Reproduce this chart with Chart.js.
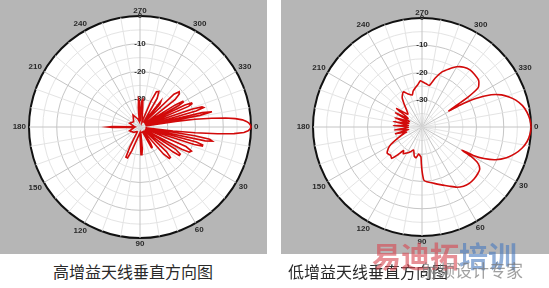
<!DOCTYPE html>
<html><head><meta charset="utf-8">
<script src="https://cdn.jsdelivr.net/npm/chart.js@4.4.1/dist/chart.umd.min.js"></script>
<style>
html,body{margin:0;padding:0;background:#fff;width:549px;height:288px;overflow:hidden;position:relative;font-family:"Liberation Sans",Arial,sans-serif}
.panel{position:absolute;top:0;height:254px;background:#b6b6b6}
#p1{left:0;width:267px}
#p2{left:281px;width:268px}
canvas{display:block}
.cap{position:absolute;top:260px;font-family:"Noto Sans CJK SC",sans-serif;font-size:16px;color:#2a2a2a;white-space:nowrap;line-height:22px}
#wm1{position:absolute;left:372px;top:240px;font-family:"Noto Sans CJK SC",sans-serif;font-weight:bold;font-size:29px;line-height:30px;white-space:nowrap}
#wm2{position:absolute;left:421px;top:259px;font-family:"Noto Sans CJK SC",sans-serif;font-size:17px;line-height:22px;color:rgba(120,120,120,0.7);white-space:nowrap}
</style></head>
<body>
<div class="panel" id="p1"><canvas id="c1" width="267" height="254"></canvas></div>
<div class="panel" id="p2"><canvas id="c2" width="268" height="254"></canvas></div>
<div class="cap" style="left:53px">高增益天线垂直方向图</div>
<div class="cap" style="left:288px">低增益天线垂直方向图</div>
<div id="wm1"><span style="color:rgba(215,70,80,0.6)">易迪拓</span><span style="color:rgba(70,120,190,0.6)">培训</span></div>
<div id="wm2">射频设计专家</div>
<script>
// angle tick labels (degrees, 0 = right, increasing clockwise) and gain ticks (dB)
const angleTicks = [0, 30, 60, 90, 120, 150, 180, 210, 240, 270, 300, 330];
const gainTicks = [0, -10, -20, -30];

// High gain antenna vertical pattern: angle (deg) / gain (dB)
const highAngles = [
  -10, -9, -8, -7, -6, -5, -4, -3, -2, -1, 0, 1, 2, 3, 4, 5, 6, 7, 8,
  -11, -12, -13, -14,
  -16, -17, -18, -19, -20,
  -23, -24, -25, -26, -27,
  -29, -30, -31, -32, -34,
  -38, -40, -42, -44, -46,
  -49, -51, -53,
  -59, -62, -65, -67, -69,
  -82, -84, -86, -88,
  -91, -93, -95, -97,
  255, 240, 220, 200, 183, 181, 180, 179, 177, 160, 140, 125,
  109, 112, 115, 117, 119,
  82, 84, 86, 88, 90,
  54, 57, 59, 61, 63,
  43, 45, 47, 49, 51,
  32, 34, 36, 37, 39,
  23, 25, 27, 28, 30,
  15, 16, 17, 18, 19,
  9, 10, 11, 12, 13
];
const highGain = [
  -38, -27, -20, -14, -9, -5.5, -3, -1.6, -0.7, -0.2, 0, -0.3, -1, -2.5, -6, -12, -20, -28, -38,
  -18, -13.5, -17, -38,
  -19, -16, -16.5, -20, -38,
  -21, -19.5, -19.5, -22, -38,
  -24, -22, -22, -25, -38,
  -24, -21.5, -21, -23, -38,
  -29, -28, -38,
  -28, -25.5, -26, -30, -38,
  -33, -30, -30.5, -38,
  -31, -30, -33, -38,
  -37, -35, -37, -36, -38, -30, -28.5, -30, -38, -36, -37, -38,
  -31, -28, -28, -32, -38,
  -38, -32, -30, -30, -38,
  -38, -33, -31.5, -31.5, -38,
  -27, -24.5, -24.5, -27, -38,
  -25, -22.5, -22.5, -25, -38,
  -22, -19.5, -20, -23, -38,
  -19, -16.5, -16.5, -19.5, -38,
  -20, -14.5, -13.5, -16, -38
];

// Low gain antenna vertical pattern: angle (deg) / gain (dB)
const lowAngles = [0,4,8,12,16,20,24,27,29,30,31,33,36,40,45,50,55,60,65,70,75,80,85,88,89,90,91,92,94,97,101,105,110,115,120,125,128,131,134,138,143,148,151,155,160,162,166,170,174,179,183,187,191,195,199,204,208,212,216,222,228,232,236,242,247,253,256,260,264,268,271,275,280,285,290,295,300,305,310,315,320,322,325,327,329,330,332,335,338,341,344,348,352,356];
const lowGain = [0,-0.3,-1.1,-2.5,-4.5,-7,-10.5,-14.5,-18.5,-23,-19,-15.5,-13.8,-13.3,-13,-13,-13.5,-14.5,-16,-17.3,-18.3,-19.2,-19.8,-20.5,-22,-24,-26.5,-29,-29.5,-30,-28.5,-29,-31,-30,-29,-28,-29,-26.5,-24,-24.5,-24,-25.5,-27,-30,-33,-34,-30,-35,-29.8,-35,-29.5,-35,-29.3,-35,-29.5,-35,-29,-34,-28.5,-33,-31.5,-29.4,-27,-25.4,-26.8,-27.7,-26.5,-25.5,-24.5,-23,-23.5,-24,-24.5,-21.5,-18.5,-16.5,-14.5,-13.2,-12.6,-12.7,-13,-13.5,-14.8,-20,-28.5,-24,-18,-12,-8.5,-6.2,-4.2,-2.3,-1.1,-0.3];

// 1-degree category axis starting at 270 (top) going clockwise
const START = 270;
const degLabels = Array.from({length: 360}, (_, i) => (START + i) % 360);
const idxOf = a => (((a - START) % 360) + 360) % 360;
function toSeries(angles, gains) {
  const d = new Array(360).fill(null);
  angles.forEach((a, k) => { d[idxOf(a)] = gains[k]; });
  return d;
}

const angleLabelPlugin = {
  id: 'angleLabels',
  afterDraw(chart) {
    const s = chart.scales.r, ctx = chart.ctx;
    ctx.save();
    ctx.font = 'bold 8px "Liberation Sans", Arial, sans-serif';
    ctx.fillStyle = '#2a2a2a';
    ctx.textAlign = 'center';
    ctx.textBaseline = 'middle';
    angleTicks.forEach(a => {
      const t = String(a);
      const w = ctx.measureText(t).width, h = 5;
      const th = a * Math.PI / 180;
      const ext = Math.abs(Math.cos(th)) * w / 2 + Math.abs(Math.sin(th)) * h / 2;
      const p = s.getPointPosition(idxOf(a), s.drawingArea + 3 + ext);
      ctx.fillText(t, p.x, p.y);
    });
    ctx.restore();
  }
};

function makeChart(id, data, pad, tension) {
  return new Chart(document.getElementById(id), {
    type: 'radar',
    data: {
      labels: degLabels,
      datasets: [{
        data: data,
        borderColor: '#d20a0a',
        borderWidth: 1.6,
        pointRadius: 0,
        pointHoverRadius: 0,
        fill: false,
        spanGaps: true,
        tension: tension
      }]
    },
    options: {
      responsive: false,
      animation: false,
      devicePixelRatio: 1,
      layout: { padding: pad },
      plugins: { legend: { display: false }, tooltip: { enabled: false } },
      scales: {
        r: {
          min: -40, max: 0,
          startAngle: 0,
          backgroundColor: '#ffffff',
          grid: {
            circular: true,
            color: c => c.tick.value === 0 ? '#111111' : (c.tick.value % 10 === 0 ? '#c6c6c6' : '#e4e4e4'),
            lineWidth: c => c.tick.value === 0 ? 2 : 1
          },
          angleLines: {
            display: true,
            color: c => { const a = degLabels[c.index]; return a % 30 === 0 ? '#c4c4c4' : '#e4e4e4'; },
            lineWidth: c => { const a = degLabels[c.index]; return a % 10 === 0 ? 1 : 0; }
          },
          pointLabels: { display: false },
          ticks: {
            stepSize: 5,
            showLabelBackdrop: false,
            color: '#2a2a2a',
            font: { size: 8, weight: 'bold', family: '"Liberation Sans", Arial, sans-serif' },
            callback: v => gainTicks.includes(v) ? String(v) : ''
          }
        }
      }
    },
    plugins: [angleLabelPlugin]
  });
}

makeChart('c1', toSeries(highAngles, highGain), {left: 23, top: 10, right: 10, bottom: 10}, 0);
makeChart('c2', toSeries(lowAngles, lowGain), {left: 26, top: 12, right: 12, bottom: 12}, 0.2);
</script>
</body></html>
